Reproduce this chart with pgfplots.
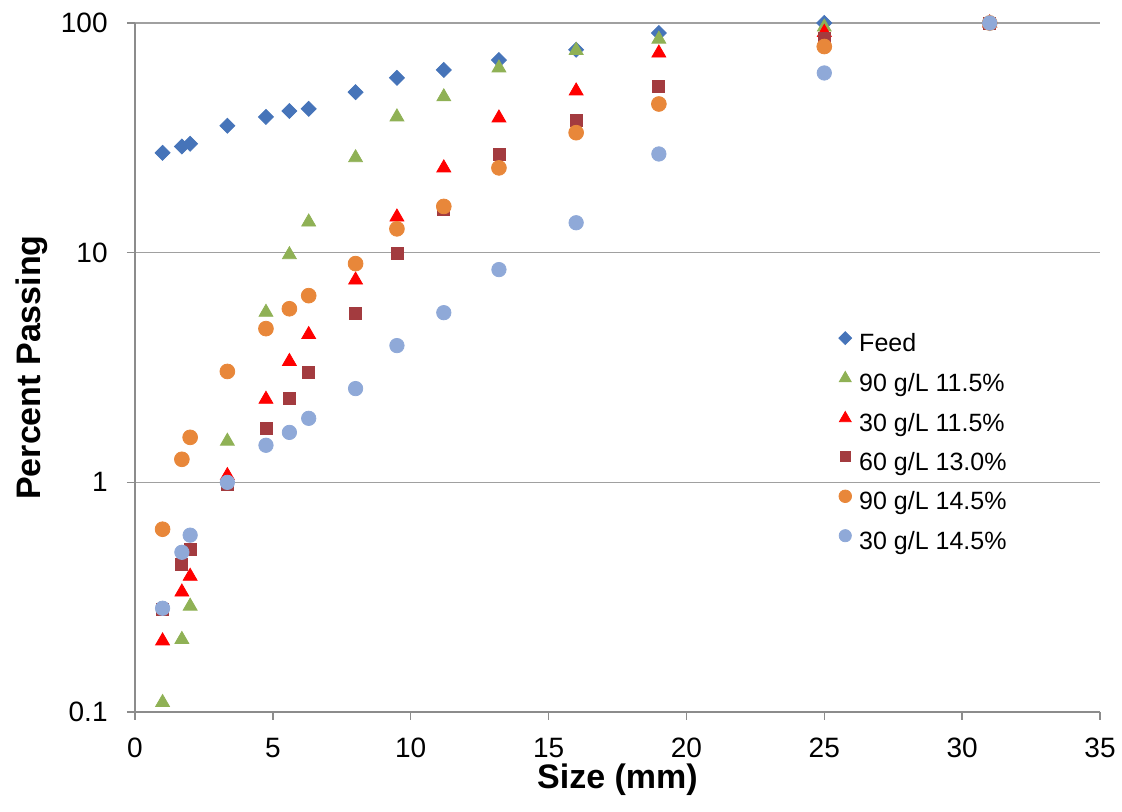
\documentclass[border=0pt]{standalone}
\usepackage{fontspec}
\setmainfont{Liberation Sans}
\usepackage{pgfplots}
\usepackage{pgfplotstable}
\pgfplotsset{compat=1.18}

\definecolor{feedblue}{HTML}{4674B9}
\definecolor{sgreen}{HTML}{8FB155}
\definecolor{sred}{HTML}{FF0000}
\definecolor{sdark}{HTML}{A33B3F}
\definecolor{sorange}{HTML}{E8873A}
\definecolor{slight}{HTML}{8FA9D8}
\definecolor{axisgray}{HTML}{8C8C8C}
\definecolor{gridgray}{HTML}{A0A0A0}

% size (mm) and cumulative percent passing for each test
\pgfplotstableread{
size  feed  g90a   r30a   s60    o90    b30
1.0   27.2  0.110  0.204  0.280  0.625  0.283
1.7   29.0  0.207  0.333  0.440  1.26   0.496
2.0   29.8  0.289  0.390  0.510  1.57   0.589
3.35  35.7  1.51   1.07   0.98   3.04   1.00
4.75  39.0  5.50   2.30   1.72   4.67   1.45
5.6   41.4  9.80   3.36   2.32   5.70   1.65
6.3   42.3  13.6   4.40   3.00   6.50   1.90
8.0   50.0  25.9   7.60   5.43   8.96   2.56
9.5   57.7  39.0   14.3   9.90   12.7   3.94
11.2  62.5  47.7   23.4   15.5   15.9   5.48
13.2  69.0  63.7   38.6   26.7   23.4   8.44
16.0  76.5  76.0   50.6   37.5   33.3   13.5
19.0  90.5  85.0   74.0   53.0   44.4   26.9
25.0  100   96.0   91.0   86.0   79.0   60.6
31.0  100   100    100    100    100    100
}\psd

\begin{document}
\begin{tikzpicture}
\begin{axis}[
  scale only axis,
  width=482.5pt, height=344.5pt,
  xmin=0, xmax=35,
  ymode=log, ymin=0.1, ymax=100,
  axis lines=left,
  axis line style={-, draw=axisgray, line width=0.7pt},
  xtick={0,5,...,35},
  ytick={0.1,1,10,100},
  yticklabels={0.1,1,10,100},
  yminorticks=false,
  tick align=outside,
  major tick length=4pt,
  tick style={draw=axisgray, line width=0.7pt},
  ymajorgrids,
  major grid style={draw=gridgray, line width=0.7pt},
  /pgf/number format/assume math mode=true,
  ticklabel style={font=\fontsize{14}{16}\selectfont, text=black},
  yticklabel style={inner sep=0pt, xshift=-9.5pt},
  xticklabel style={inner sep=0pt, yshift=-9pt},
  xlabel={Size (mm)},
  xlabel style={at={(axis description cs:0.5,-0.1115)}, anchor=base,
    inner sep=0pt, font=\bfseries\fontsize{17}{20}\selectfont},
  ylabel={Percent Passing},
  ylabel style={at={(axis description cs:-0.0975,0.5)}, anchor=base,
    inner sep=0pt, font=\bfseries\fontsize{17}{20}\selectfont},
  clip=false,
  legend cell align=left,
  legend style={draw=none, fill=none,
    at={(axis description cs:0.729,0.5525)}, anchor=north west,
    inner sep=0pt, row sep=7.3pt,
    font=\fontsize{12.5}{15}\selectfont,
    nodes={inner sep=0pt, text height=9.2pt, text depth=2.7pt},
    /tikz/every odd column/.append style={column sep=3.8pt}},
  legend image code/.code={%
    \draw[#1, every mark/.append style={scale=0.85}]
      plot coordinates {(0pt,3.4pt)};},
]
\addplot[only marks, mark=square*, mark size=2.65pt,
  mark options={rotate=45, draw=feedblue, fill=feedblue}]
  table[x=size, y=feed] {\psd};
\addlegendentry{Feed}
\addplot[only marks, mark=triangle*, mark size=4pt,
  mark options={draw=sgreen, fill=sgreen}]
  table[x=size, y=g90a] {\psd};
\addlegendentry{90 g/L 11.5\%}
\addplot[only marks, mark=triangle*, mark size=4pt,
  mark options={draw=sred, fill=sred}]
  table[x=size, y=r30a] {\psd};
\addlegendentry{30 g/L 11.5\%}
\addplot[only marks, mark=square*, mark size=3pt,
  mark options={draw=sdark, fill=sdark}]
  table[x=size, y=s60] {\psd};
\addlegendentry{60 g/L 13.0\%}
\addplot[only marks, mark=*, mark size=3.7pt,
  mark options={draw=sorange, fill=sorange}]
  table[x=size, y=o90] {\psd};
\addlegendentry{90 g/L 14.5\%}
\addplot[only marks, mark=*, mark size=3.6pt,
  mark options={draw=slight, fill=slight}]
  table[x=size, y=b30] {\psd};
\addlegendentry{30 g/L 14.5\%}
\end{axis}
\path (current axis.south west) ++(-67.5pt,-49.5pt) rectangle ++(561pt,405.5pt);
\end{tikzpicture}
\end{document}
